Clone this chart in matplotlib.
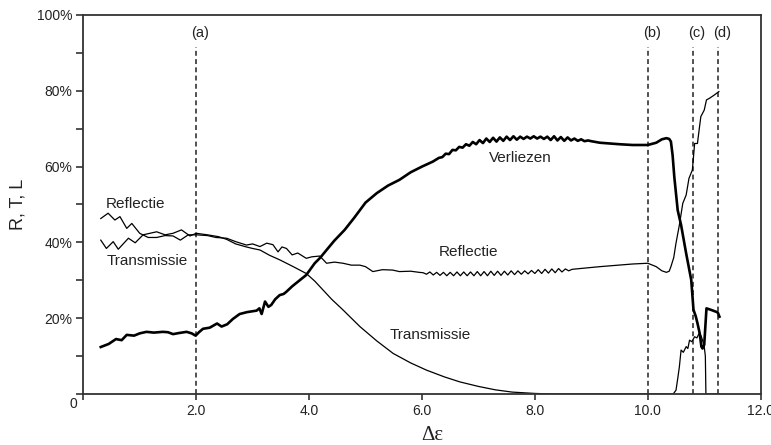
import matplotlib
matplotlib.use("Agg")
import matplotlib.pyplot as plt
from matplotlib.ticker import MultipleLocator
import matplotlib.transforms as mtransforms

# Verliezen (losses), thick line
verl_x = [0.31, 0.45, 0.58, 0.68, 0.77, 0.90, 1.00, 1.12, 1.25, 1.41, 1.50, 1.59, 1.70,
          1.83, 1.92, 1.99, 2.05, 2.12, 2.24, 2.37, 2.45, 2.55, 2.65, 2.77, 2.90, 3.07,
          3.12, 3.16, 3.22, 3.28, 3.33, 3.40, 3.48, 3.55, 3.60, 3.70, 3.80, 3.95, 4.10,
          4.20, 4.31, 4.45, 4.63, 4.80, 5.00, 5.20, 5.40, 5.60, 5.80, 6.00, 6.19,
          6.30, 6.36, 6.42, 6.48, 6.54, 6.60, 6.66, 6.72, 6.78, 6.84, 6.90, 6.96, 7.02,
          7.08, 7.14, 7.20, 7.26, 7.32, 7.38, 7.44, 7.50, 7.56, 7.62, 7.68, 7.74, 7.80,
          7.86, 7.92, 7.98, 8.04, 8.10, 8.16, 8.22, 8.28, 8.34, 8.40, 8.46, 8.52, 8.58,
          8.64, 8.70, 8.76, 8.82, 8.88, 8.94, 9.00,
          9.15, 9.50, 9.73, 10.00, 10.15, 10.25, 10.33, 10.38, 10.41, 10.44, 10.47, 10.53,
          10.59, 10.68, 10.77, 10.81, 10.85, 10.88, 10.92, 10.95, 10.97, 11.00, 11.04,
          11.12, 11.21, 11.24, 11.27]
verl_y = [12.4, 13.2, 14.5, 14.2, 15.6, 15.4, 16.0, 16.4, 16.2, 16.4, 16.3, 15.8, 16.1,
          16.4, 16.0, 15.4, 16.3, 17.2, 17.5, 18.6, 17.8, 18.4, 19.8, 21.1, 21.6, 22.0,
          22.6, 21.1, 24.4, 23.0, 23.5, 25.0, 26.1, 26.4, 27.0, 28.4, 29.6, 31.4, 34.5,
          36.0, 38.0, 40.5, 43.3, 46.5, 50.5, 53.0, 55.0, 56.5, 58.5, 60.0, 61.3,
          62.3, 62.5, 63.4, 63.3, 64.4, 64.3, 65.2, 65.0, 65.9, 65.5, 66.5, 65.9, 67.0,
          66.2, 67.4, 66.5, 67.6, 66.6, 67.7, 66.8, 67.9, 67.0, 68.0, 67.1, 67.9, 67.3,
          67.9, 67.4, 68.0, 67.4, 67.9, 67.3, 67.9, 67.0, 68.0, 66.9, 67.8, 66.8, 67.7,
          66.9, 67.4, 66.8, 67.2, 66.7, 66.9, 66.7,
          66.3, 65.9, 65.7, 65.7, 66.3, 67.2, 67.5, 67.3, 66.6, 63.0, 57.3, 48.5,
          44.6, 37.1, 30.1, 22.2, 20.5, 18.7, 16.0, 12.5, 12.0, 13.0, 22.6,
          22.2, 21.7, 21.5, 20.4]

# Reflectie, thin line
refl_x = [0.31, 0.44, 0.56, 0.65, 0.77, 0.86, 1.00, 1.15, 1.30, 1.45, 1.59, 1.72, 1.86,
          2.00, 2.20, 2.35, 2.54, 2.70, 2.89, 3.00, 3.13, 3.25, 3.36, 3.45, 3.52, 3.60,
          3.70, 3.80, 3.95, 4.05, 4.19, 4.31, 4.45, 4.60, 4.75, 4.90, 5.00, 5.13, 5.30,
          5.48, 5.60, 5.80, 5.95,
          6.02, 6.08, 6.14, 6.20, 6.26, 6.32, 6.38, 6.44, 6.50, 6.56, 6.62, 6.68, 6.74,
          6.80, 6.86, 6.92, 6.98, 7.04, 7.10, 7.16, 7.22, 7.28, 7.34, 7.40, 7.46, 7.52,
          7.58, 7.64, 7.70, 7.76, 7.82, 7.88, 7.94, 8.00, 8.06, 8.12, 8.18, 8.24, 8.30,
          8.36, 8.42, 8.48, 8.54, 8.60, 8.66,
          9.15, 9.73, 10.00, 10.15, 10.25, 10.33, 10.38, 10.41, 10.46, 10.50, 10.56,
          10.62, 10.68, 10.73, 10.79, 10.81, 10.83, 10.88, 10.91, 10.94, 11.00, 11.04,
          11.09, 11.18, 11.26]
refl_y = [46.3, 47.7, 45.9, 46.8, 43.7, 45.0, 42.4, 41.3, 41.3, 41.8, 41.7, 40.6, 42.0,
          42.0, 41.8, 41.3, 41.1, 40.2, 39.3, 39.6, 38.9, 39.8, 39.4, 37.5, 38.8, 38.4,
          36.7, 37.2, 35.8, 36.2, 36.4, 34.5, 34.8, 34.5, 34.0, 34.0, 33.6, 32.3, 32.8,
          32.7, 32.3, 32.4, 32.1,
          32.0, 31.6, 32.2, 31.4, 32.1, 31.3, 32.1, 31.2, 32.1, 31.2, 32.2, 31.2, 32.2,
          31.2, 32.2, 31.2, 32.3, 31.2, 32.3, 31.2, 32.4, 31.3, 32.4, 31.3, 32.4, 31.4,
          32.5, 31.5, 32.5, 31.6, 32.5, 31.7, 32.6, 31.8, 32.8, 31.8, 32.9, 31.9, 33.0,
          32.0, 33.1, 32.2, 33.0, 32.5, 32.9,
          33.6, 34.3, 34.5, 33.6, 32.5, 32.1, 32.4, 33.6, 36.0, 39.8, 44.6,
          50.3, 52.5, 56.9, 59.1, 62.6, 66.1, 66.1, 69.7, 73.2, 74.9, 77.6,
          78.0, 78.9, 79.8]

# Transmissie, thin line
trans_x = [0.31, 0.41, 0.53, 0.62, 0.80, 0.92, 1.06, 1.30, 1.45, 1.59, 1.74, 1.89, 2.00,
           2.20, 2.40, 2.54, 2.70, 2.89, 3.00, 3.13, 3.30, 3.48, 3.72, 3.95, 4.10, 4.25,
           4.40, 4.60, 4.75, 4.90, 5.20, 5.49, 5.80, 6.08, 6.40, 6.67, 7.00, 7.30, 7.60,
           8.00, 8.30, 10.45, 10.50, 10.53, 10.56, 10.59, 10.63, 10.68, 10.71, 10.74,
           10.78, 10.83, 10.87, 10.91, 10.94, 10.97, 11.00, 11.02, 11.03, 11.27]
trans_y = [40.6, 38.4, 40.2, 38.2, 41.1, 39.9, 42.0, 42.8, 42.0, 42.4, 43.3, 41.7, 42.4,
           42.0, 41.5, 40.8, 39.6, 38.8, 38.4, 38.0, 36.6, 35.4, 33.6, 31.8, 29.8, 27.4,
           25.0, 22.2, 20.0, 17.8, 14.0, 10.7, 8.2, 6.3, 4.5, 3.2, 2.0, 1.1, 0.5,
           0.15, 0.0, 0.0, 1.0, 4.0, 7.2, 11.6, 11.0, 12.5, 12.0, 14.2,
           13.8, 15.1, 14.8, 16.0, 15.5, 14.2, 12.5, 10.0, 0.0, 0.0]

marker_x = [2.0, 10.0, 10.8, 11.25]
marker_labels = ['(a)', '(b)', '(c)', '(d)']

xticks = [0, 2, 4, 6, 8, 10, 12]
xtick_labels = ['', '2.0', '4.0', '6.0', '8.0', '10.0', '12.0']
yticks = [0, 20, 40, 60, 80, 100]
ytick_labels = ['0', '20%', '40%', '60%', '80%', '100%']

plt.rcParams['font.family'] = ['Liberation Sans', 'DejaVu Sans']
ink = '#222222'

fig = plt.figure(figsize=(7.71, 4.45), dpi=100)
ax = fig.add_axes([0.108, 0.1146, 0.8786, 0.8517])

for xm, lab in zip(marker_x, marker_labels):
    ax.plot([xm, xm], [0, 91.6], color=ink, lw=1.1, dashes=(3.2, 2.2))
    ax.text(xm + 0.07, 95.3, lab, ha='center', va='center', fontsize=10.5, color=ink)

ax.plot(trans_x, trans_y, color='black', lw=0.9)
ax.plot(refl_x, refl_y, color='black', lw=0.9)
ax.plot(verl_x, verl_y, color='black', lw=1.9)

ax.text(0.40, 50.1, 'Reflectie', fontsize=11, va='center', ha='left', color=ink)
ax.text(0.41, 35.2, 'Transmissie', fontsize=11, va='center', ha='left', color=ink)
ax.text(7.75, 62.3, 'Verliezen', fontsize=11, va='center', ha='center', color=ink)
ax.text(6.83, 37.5, 'Reflectie', fontsize=11, va='center', ha='center', color=ink)
ax.text(5.43, 15.6, 'Transmissie', fontsize=11, va='center', ha='left', color=ink)

ax.set_xlim(0, 12)
ax.set_ylim(0, 100)
ax.set_xticks(xticks)
ax.set_xticklabels(xtick_labels)
ax.set_yticks(yticks)
ax.set_yticklabels(ytick_labels)
ax.yaxis.set_minor_locator(MultipleLocator(10))
ax.tick_params(axis='both', which='both', direction='out', colors=ink, width=1.1,
               labelsize=10)
ax.tick_params(axis='y', which='major', length=5, pad=3)
ax.tick_params(axis='y', which='minor', length=5)
ax.tick_params(axis='x', which='major', length=4, pad=3)

# the "0" label sits a little below and right of the corner
zero_lab = ax.get_yticklabels()[0]
zero_lab.set_transform(zero_lab.get_transform() +
                       mtransforms.ScaledTranslation(4 / 72, -6 / 72, fig.dpi_scale_trans))

for sp in ax.spines.values():
    sp.set_color('#333333')
    sp.set_linewidth(1.3)

ax.set_ylabel('R, T, L', fontsize=13, color=ink, labelpad=7)
ax.set_xlabel('Δε', fontsize=15, color=ink, family=['Liberation Serif', 'DejaVu Serif'],
              labelpad=4)
ax.xaxis.set_label_coords(0.515, -0.085)

fig.savefig('out.png', dpi=100)
